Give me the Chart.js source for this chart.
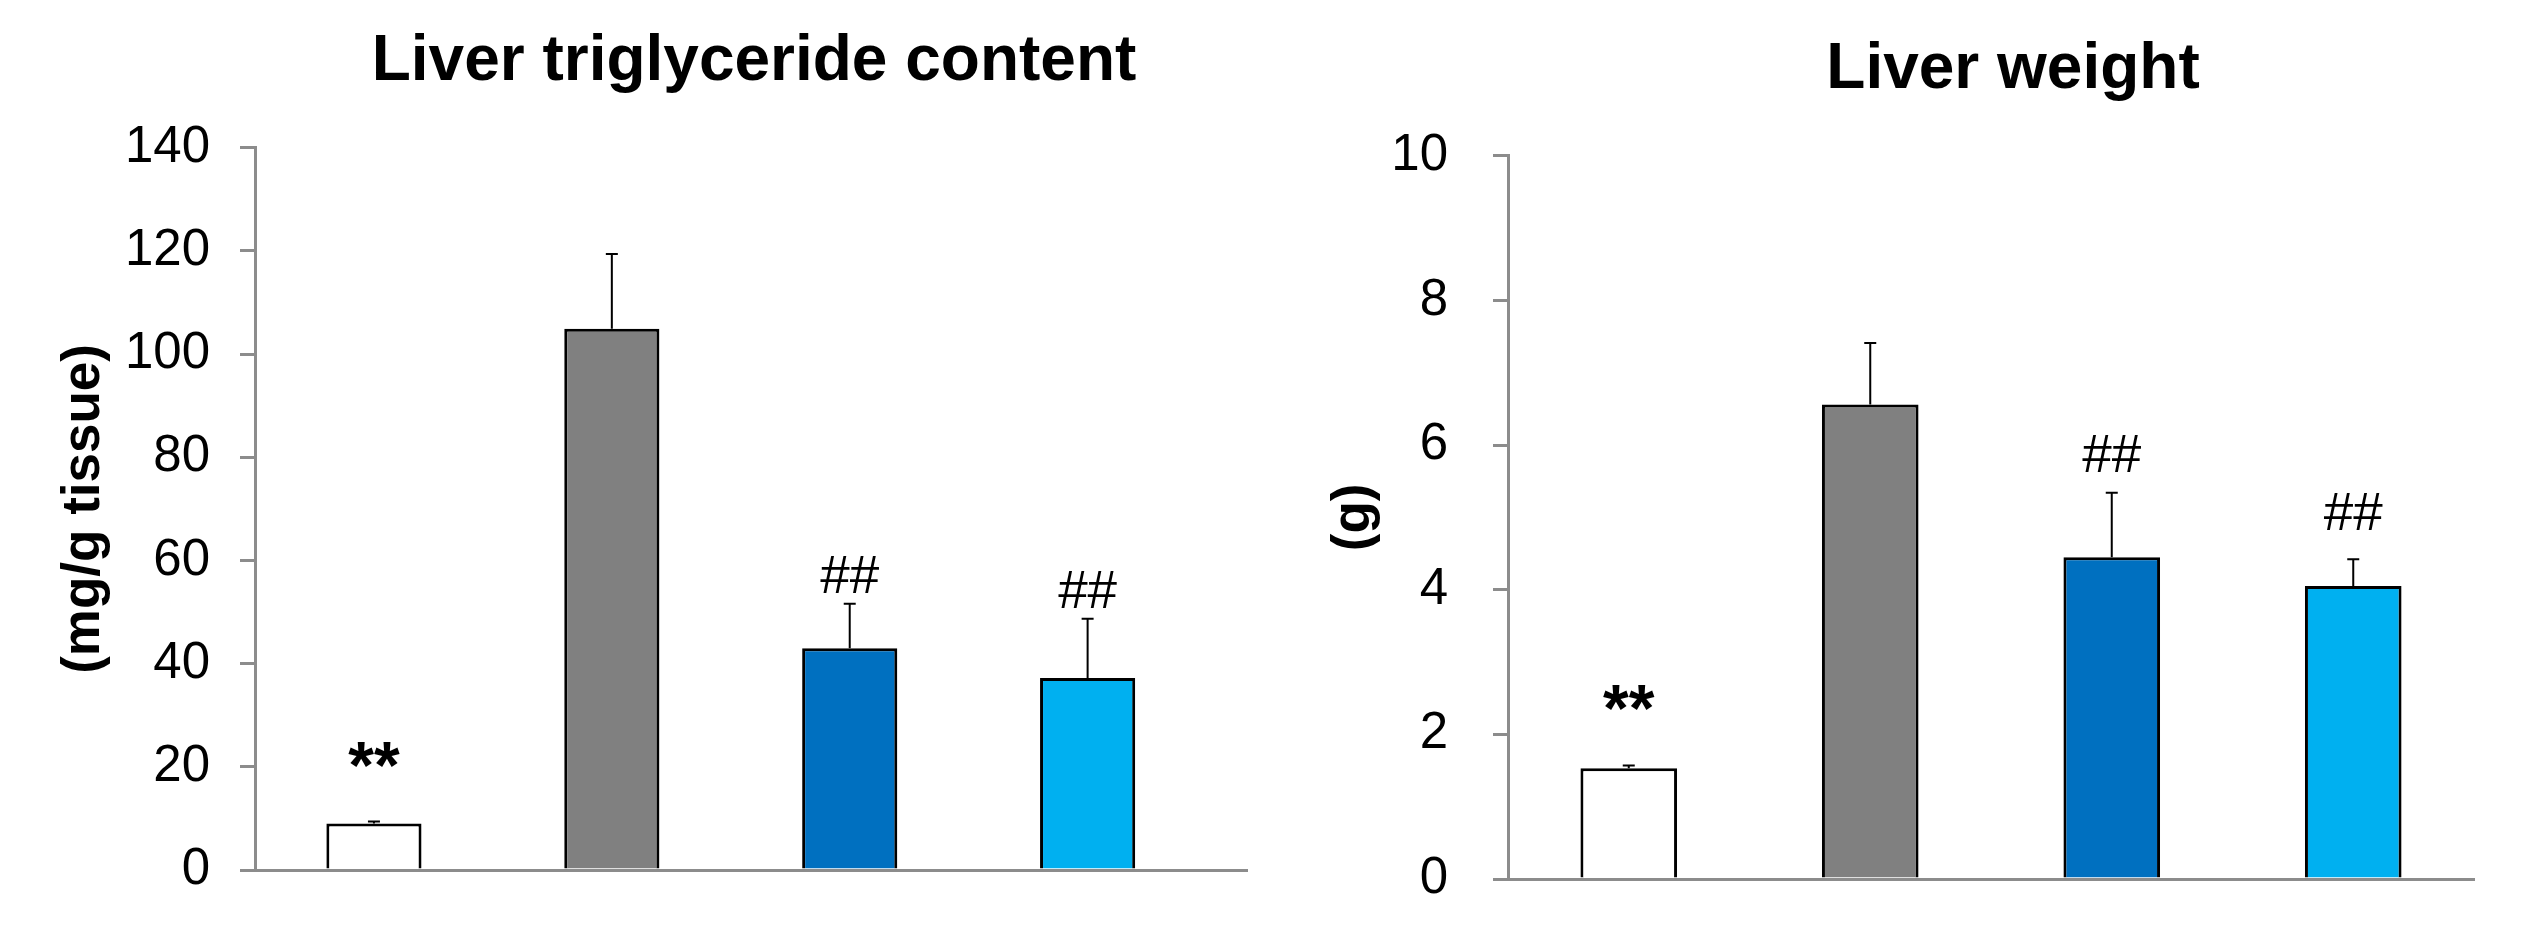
<!DOCTYPE html>
<html>
<head>
<meta charset="utf-8">
<script src="https://cdn.jsdelivr.net/npm/chart.js@4.4.0/dist/chart.umd.min.js"></script>
<style>
  body { margin: 0; background: #fff; }
  .wrap { display: flex; width: 2540px; height: 925px; }
  canvas { display: block; }
</style>
</head>
<body>
<div class="wrap">
  <canvas id="tgChart" width="1270" height="925"></canvas>
  <canvas id="weightChart" width="1270" height="925"></canvas>
</div>
<script>
const groups = ['Group 1', 'Group 2', 'Group 3', 'Group 4'];
const barColors = ['#ffffff', '#808080', '#0070c0', '#00b0f0'];

// liver triglyceride (mg/g tissue)
const tgMean = [9.0, 104.9, 43.0, 37.2];
const tgError = [0.4, 14.5, 8.6, 11.5];
const tgMarks = ['**', '', '##', '##'];
const tgMarkAt = [20.0, 0, 53.7, 50.8]; // where the bottom of each mark sits
const tgTicks = [0, 20, 40, 60, 80, 100, 120, 140];

// liver weight (g)
const weightMean = [1.53, 6.56, 4.45, 4.05];
const weightError = [0.04, 0.85, 0.89, 0.37];
const weightMarks = ['**', '', '##', '##'];
const weightMarkAt = [2.33, 0, 5.63, 4.82];
const weightTicks = [0, 2, 4, 6, 8, 10];

const FONT = "'Liberation Sans', Arial, sans-serif";
const AXIS_GREY = '#8c8c8c';

function makeChart(id, o) {
  // error bars + significance marks, drawn from the y scale
  const extras = {
    id: 'extras',
    afterLayout(chart) {
      // nudge the title a little off the plot centre, like the original
      chart.titleBlock.left += o.titleShift;
      chart.titleBlock.right += o.titleShift;
    },
    afterDatasetsDraw(chart) {
      const ctx = chart.ctx;
      const y = chart.scales.y;
      const bars = chart.getDatasetMeta(0).data;
      ctx.save();
      ctx.strokeStyle = '#000';
      ctx.lineWidth = 2;
      bars.forEach((bar, i) => {
        const top = y.getPixelForValue(o.mean[i] + o.error[i]);
        ctx.beginPath();
        ctx.moveTo(bar.x, bar.y);
        ctx.lineTo(bar.x, top);
        ctx.moveTo(bar.x - 6, top);
        ctx.lineTo(bar.x + 6, top);
        ctx.stroke();
        if (o.marks[i]) {
          const bold = o.marks[i] === '**';
          ctx.font = (bold ? 'bold 66px ' : '53px ') + FONT;
          ctx.fillStyle = '#000';
          ctx.textAlign = 'center';
          ctx.textBaseline = 'alphabetic';
          const m = ctx.measureText(o.marks[i]);
          const yb = y.getPixelForValue(o.markAt[i]);
          ctx.fillText(o.marks[i], bar.x, yb - m.actualBoundingBoxDescent);
        }
      });
      ctx.restore();
    }
  };

  return new Chart(document.getElementById(id), {
    type: 'bar',
    data: {
      datasets: [{
        label: o.title,
        data: o.mean.map((v, i) => ({ x: i + 0.5, y: v })),
        backgroundColor: barColors,
        borderColor: '#000',
        borderWidth: 3,
        barPercentage: o.barPct,
        categoryPercentage: 1,
      }],
    },
    options: {
      responsive: false,
      animation: false,
      layout: { padding: o.padding },
      plugins: {
        legend: { display: false },
        tooltip: { enabled: false },
        title: {
          display: true,
          text: o.title,
          fullSize: false,
          color: '#000',
          font: { family: FONT, size: 64, weight: 'bold' },
          padding: o.titlePad,
        },
      },
      scales: {
        x: {
          type: 'linear',
          min: 0,
          max: o.xMax,
          offset: false,
          afterBuildTicks: s => { s.ticks = groups.map((g, i) => ({ value: i + 0.5 })); },
          afterFit: s => { s.height = 0; },
          ticks: { display: false },
          grid: { display: false, drawTicks: false },
          border: { display: true, color: AXIS_GREY, width: 3 },
        },
        y: {
          min: o.ticks[0],
          max: o.ticks[o.ticks.length - 1],
          afterBuildTicks: s => { s.ticks = o.ticks.map(v => ({ value: v })); },
          afterFit: s => {
            s.width = o.axisWidth;
            // let the layout padding decide the plot's top and bottom
            s.paddingTop = 0;
            s.paddingBottom = 0;
          },
          ticks: {
            color: '#000',
            font: { family: FONT, size: 51 },
            padding: o.tickPad,
          },
          grid: {
            drawOnChartArea: false,
            drawTicks: true,
            tickLength: 15,
            color: AXIS_GREY,
            lineWidth: 3,
          },
          border: { display: true, color: AXIS_GREY, width: 3 },
          title: {
            display: true,
            text: o.yTitle,
            color: '#000',
            font: { family: FONT, size: 53, weight: 'bold' },
            padding: 0,
          },
        },
      },
    },
    plugins: [extras],
  });
}

makeChart('tgChart', {
  title: 'Liver triglyceride content',
  yTitle: '(mg/g tissue)',
  mean: tgMean, error: tgError, marks: tgMarks, markAt: tgMarkAt, ticks: tgTicks,
  xMax: 4.17,
  barPct: 0.4,
  axisWidth: 202,
  tickPad: 30,
  titleShift: 3,
  padding: { left: 53, right: 23, top: 0, bottom: 55 },
  titlePad: { top: 24, bottom: 47 },
});

makeChart('weightChart', {
  title: 'Liver weight',
  yTitle: '(g)',
  mean: weightMean, error: weightError, marks: weightMarks, markAt: weightMarkAt, ticks: weightTicks,
  xMax: 4.0,
  barPct: 0.4,
  axisWidth: 185,
  tickPad: 45,
  titleShift: 22,
  padding: { left: 53, right: 66, top: 0, bottom: 46 },
  titlePad: { top: 32, bottom: 47 },
});
</script>
</body>
</html>
